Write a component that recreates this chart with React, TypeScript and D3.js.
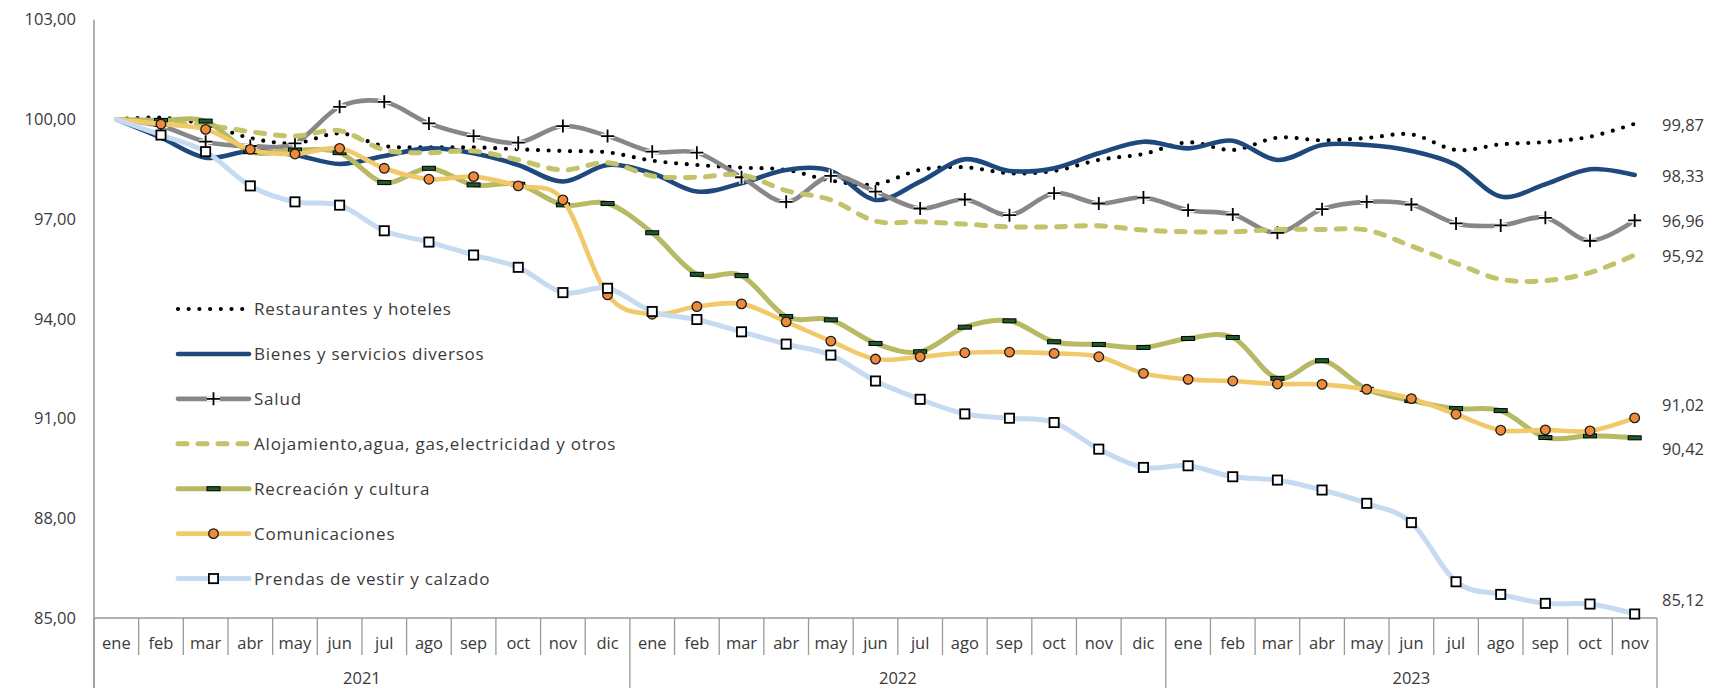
import * as d3 from "d3";

const MONTHS = ["ene", "feb", "mar", "abr", "may", "jun", "jul", "ago", "sep", "oct", "nov", "dic"];
const CATEGORIES = [...MONTHS, ...MONTHS, ...MONTHS].slice(0, 35);
const YEARS = ["2021", "2022", "2023"];
const YEAR_STARTS = [0, 12, 24];
const Y_TICKS = [85, 88, 91, 94, 97, 100, 103];

const RESTAURANTES = [
  100, 100.05, 99.85, 99.44, 99.28, 99.58, 99.2, 99.16, 99.16, 99.1, 99.05, 99.01,
  98.76, 98.63, 98.55, 98.48, 98.16, 98.05, 98.48, 98.56, 98.38, 98.45, 98.78, 98.96,
  99.31, 99.08, 99.45, 99.37, 99.44, 99.55, 99.08, 99.25, 99.32, 99.48, 99.87,
];
const BIENES = [
  100, 99.45, 98.85, 99.05, 98.93, 98.66, 98.9, 99.13, 98.98, 98.63, 98.13, 98.63,
  98.38, 97.83, 98.08, 98.48, 98.45, 97.58, 98.13, 98.8, 98.45, 98.53, 98.98, 99.33,
  99.13, 99.36, 98.78, 99.23, 99.23, 99.05, 98.63, 97.68, 98.05, 98.5, 98.33,
];
const SALUD = [
  100, 99.8, 99.33, 99.2, 99.28, 100.38, 100.53, 99.88, 99.5, 99.3, 99.8, 99.5,
  99.03, 99.0, 98.26, 97.52, 98.3, 97.83, 97.32, 97.59, 97.12, 97.78, 97.47, 97.65,
  97.27, 97.14, 96.59, 97.3, 97.52, 97.44, 96.87, 96.81, 97.04, 96.35, 96.96,
];
const ALOJAMIENTO = [
  100, 99.9, 99.83, 99.63, 99.5, 99.66, 99.08, 99.0, 99.05, 98.78, 98.48, 98.7,
  98.3, 98.26, 98.33, 97.86, 97.58, 96.94, 96.92, 96.85, 96.77, 96.77, 96.8, 96.67,
  96.62, 96.62, 96.69, 96.69, 96.67, 96.19, 95.67, 95.19, 95.15, 95.39, 95.92,
];
const RECREACION = [
  100, 99.97, 99.95, 99.03, 99.08, 99.0, 98.1, 98.53, 98.03, 98.05, 97.43, 97.47,
  96.59, 95.34, 95.3, 94.07, 93.97, 93.26, 93.01, 93.75, 93.94, 93.31, 93.23, 93.14,
  93.41, 93.44, 92.21, 92.74, 91.88, 91.54, 91.3, 91.24, 90.43, 90.48, 90.42,
];
const COMUNICACIONES = [
  100, 99.86, 99.7, 99.1, 98.96, 99.13, 98.53, 98.2, 98.28, 98.0, 97.58, 94.72,
  94.14, 94.37, 94.45, 93.91, 93.33, 92.79, 92.86, 92.98, 93.0, 92.96, 92.86, 92.36,
  92.18, 92.13, 92.04, 92.03, 91.88, 91.6, 91.13, 90.65, 90.66, 90.63, 91.02,
];
const PRENDAS = [
  100, 99.53, 99.03, 98.0, 97.52, 97.42, 96.65, 96.31, 95.92, 95.55, 94.79, 94.92,
  94.22, 93.98, 93.61, 93.24, 92.91, 92.13, 91.58, 91.14, 91.01, 90.88, 90.08, 89.53,
  89.58, 89.25, 89.15, 88.85, 88.45, 87.87, 86.09, 85.71, 85.44, 85.42, 85.12,
];

type Marker = "none" | "plus" | "dash" | "circle" | "square";
type Series = {
  name: string;
  values: number[];
  color: string;
  width: number;
  dash?: string;
  cap?: "round" | "butt";
  marker: Marker;
  endDy: number;
};

const SERIES: Series[] = [
  { name: "Restaurantes y hoteles", values: RESTAURANTES, color: "#000000", width: 4.2, dash: "0 10.7", cap: "round", marker: "none", endDy: 1 },
  { name: "Bienes y servicios diversos", values: BIENES, color: "#1f497d", width: 4.6, marker: "none", endDy: 1 },
  { name: "Salud", values: SALUD, color: "#878787", width: 4.6, marker: "plus", endDy: 1 },
  { name: "Alojamiento,agua, gas,electricidad y otros", values: ALOJAMIENTO, color: "#c3c36b", width: 5, dash: "9 11", cap: "round", marker: "none", endDy: 1 },
  { name: "Recreación y cultura", values: RECREACION, color: "#b7ba63", width: 5, marker: "dash", endDy: 11 },
  { name: "Comunicaciones", values: COMUNICACIONES, color: "#f1c96b", width: 4.6, marker: "circle", endDy: -13 },
  { name: "Prendas de vestir y calzado", values: PRENDAS, color: "#c6dbf1", width: 5, marker: "square", endDy: -14 },
];

const W = 1712;
const H = 688;
const LEFT = 94;
const RIGHT = 1657;
const TOP = 19.7;
const BASE = 618;
const FONT = "'Open Sans', Lato, sans-serif";
const TEXT = "#3a3a3a";
const AXIS = "#999999";
const FS = 16.5;

function MarkerShape({ type, x, y }: { type: Marker; x: number; y: number }) {
  if (type === "plus") {
    const d = `M${x - 6.5},${y}h13M${x},${y - 6.5}v13`;
    return (
      <g>
        <path d={d} stroke="#ffffff" strokeWidth={4.5} />
        <path d={d} stroke="#000000" strokeWidth={1.8} />
      </g>
    );
  }
  if (type === "dash")
    return <rect x={x - 6.5} y={y - 2} width={13} height={4} fill="#1d5a30" stroke="#000" strokeWidth={1} />;
  if (type === "circle")
    return <circle cx={x} cy={y} r={4.8} fill="#f08a3b" stroke="#1a1a1a" strokeWidth={1.3} />;
  if (type === "square")
    return <rect x={x - 4.6} y={y - 4.6} width={9.2} height={9.2} fill="#ffffff" stroke="#000" strokeWidth={1.8} />;
  return null;
}

export default function App() {
  const x = d3.scaleBand<number>().domain(d3.range(CATEGORIES.length)).range([LEFT, RIGHT]);
  const y = d3.scaleLinear().domain([85, 103]).range([BASE, TOP]);
  const bw = x.bandwidth();
  const cx = (i: number) => (x(i) ?? 0) + bw / 2;

  const line = d3
    .line<number>()
    .x((_, i) => cx(i))
    .y((v) => y(v))
    .curve(d3.curveCatmullRom.alpha(0));

  const legendX0 = 178;
  const legendX1 = 249;
  const legendY = d3.scalePoint<number>().domain(d3.range(SERIES.length)).range([309, 578.6]);
  const fmt = (v: number) => v.toFixed(2).replace(".", ",");

  return (
    <div style={{ position: "absolute", left: 0, top: 0 }}>
      <svg width={W} height={H} style={{ display: "block", background: "#fff" }} fontFamily={FONT}>
        {/* y axis */}
        <line x1={LEFT} x2={LEFT} y1={TOP} y2={H} stroke={AXIS} strokeWidth={1.5} />
        {Y_TICKS.map((t) => (
          <text key={t} x={76} y={y(t)} dy="0.35em" textAnchor="end" fontSize={FS} fill={TEXT}>
            {fmt(t)}
          </text>
        ))}

        {/* x axis table */}
        <line x1={LEFT} x2={RIGHT} y1={BASE} y2={BASE} stroke={AXIS} strokeWidth={1.5} />
        {d3.range(CATEGORIES.length + 1).map((i) => {
          const xx = i < CATEGORIES.length ? x(i) ?? 0 : RIGHT;
          const isYear = YEAR_STARTS.includes(i) || i === CATEGORIES.length;
          return <line key={i} x1={xx} x2={xx} y1={BASE} y2={isYear ? H : 655} stroke={AXIS} strokeWidth={1.3} />;
        })}
        {CATEGORIES.map((m, i) => (
          <text key={i} x={cx(i)} y={643} dy="0.35em" textAnchor="middle" fontSize={FS} fill={TEXT}>
            {m}
          </text>
        ))}
        {YEARS.map((yr, k) => {
          const s = YEAR_STARTS[k];
          const e = k + 1 < YEAR_STARTS.length ? YEAR_STARTS[k + 1] : CATEGORIES.length;
          const x0 = x(s) ?? 0;
          const x1 = e < CATEGORIES.length ? x(e) ?? 0 : RIGHT;
          return (
            <text key={yr} x={(x0 + x1) / 2} y={678} dy="0.35em" textAnchor="middle" fontSize={FS} fill={TEXT}>
              {yr}
            </text>
          );
        })}

        {/* series */}
        {SERIES.map((s) => (
          <g key={s.name}>
            <path
              d={line(s.values) ?? ""}
              fill="none"
              stroke={s.color}
              strokeWidth={s.width}
              strokeDasharray={s.dash}
              strokeLinecap={s.cap ?? "round"}
              strokeLinejoin="round"
            />
            {s.marker !== "none" &&
              s.values.map((v, i) => (i === 0 ? null : <MarkerShape key={i} type={s.marker} x={cx(i)} y={y(v)} />))}
          </g>
        ))}

        {/* end labels */}
        {SERIES.map((s) => {
          const last = s.values[s.values.length - 1];
          return (
            <text key={s.name} x={1662} y={y(last) + s.endDy} dy="0.35em" fontSize={FS} fill={TEXT}>
              {fmt(last)}
            </text>
          );
        })}

        {/* legend */}
        {SERIES.map((s, i) => {
          const ly = legendY(i) ?? 0;
          return (
            <g key={s.name}>
              <line
                x1={legendX0}
                x2={legendX1}
                y1={ly}
                y2={ly}
                stroke={s.color}
                strokeWidth={s.width}
                strokeDasharray={s.dash}
                strokeLinecap={s.cap ?? "round"}
              />
              <MarkerShape type={s.marker} x={(legendX0 + legendX1) / 2} y={ly} />
              <text x={254} y={ly} dy="0.35em" fontSize={17} letterSpacing={0.8} fill={TEXT}>
                {s.name}
              </text>
            </g>
          );
        })}
      </svg>
    </div>
  );
}
